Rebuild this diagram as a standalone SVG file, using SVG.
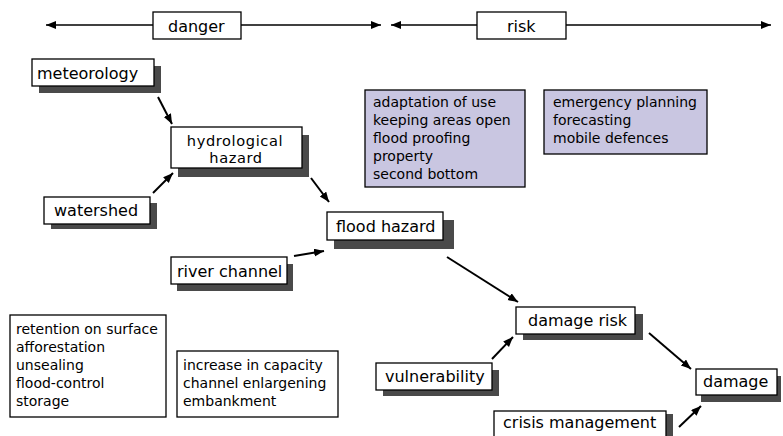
<svg xmlns="http://www.w3.org/2000/svg" width="783" height="436" viewBox="0 0 783 436">
<style>
.box{fill:#fff;stroke:#000;stroke-width:1.3}
.sh{fill:#4a4a4a}
.pbox{fill:#c9c6e1;stroke:#000;stroke-width:1.3}
.lbl{font-family:"DejaVu Sans",sans-serif;font-size:16px;fill:#000}
.hy{font-family:"DejaVu Sans",sans-serif;font-size:14.6px;letter-spacing:0.6px;fill:#000}
.lst{font-family:"DejaVu Sans",sans-serif;font-size:14px;fill:#000}
.ar{stroke:#000;stroke-width:2;fill:none;marker-end:url(#ah)}
.tl{stroke:#000;stroke-width:1.5;fill:none;marker-start:url(#ah);marker-end:url(#ah)}
</style>
<defs>
<marker id="ah" markerUnits="userSpaceOnUse" markerWidth="12" markerHeight="10" refX="10" refY="4" orient="auto-start-reverse">
<path d="M0,0 L10,4 L0,8 z" fill="#000"/>
</marker>
</defs>
<rect width="783" height="436" fill="#fff"/>
<g id="connectors">
<line class="tl" x1="46" y1="25" x2="381" y2="25"/>
<line class="tl" x1="391" y1="25" x2="771" y2="25"/>
<line class="ar" x1="158" y1="97" x2="172" y2="124"/>
<line class="ar" x1="153" y1="193" x2="173" y2="173"/>
<line class="ar" x1="311" y1="178" x2="329" y2="202"/>
<line class="ar" x1="294" y1="256" x2="324" y2="251"/>
<line class="ar" x1="447" y1="257" x2="518" y2="302"/>
<line class="ar" x1="492" y1="359" x2="513" y2="337"/>
<line class="ar" x1="649" y1="333" x2="691" y2="369"/>
<line class="ar" x1="679" y1="427" x2="701" y2="406"/>
</g>
<g id="danger">
<rect class="box" x="153" y="12" width="88" height="27"/>
<text class="lbl" x="168" y="32">danger</text>
</g>
<g id="risk">
<rect class="box" x="477" y="12" width="89" height="27"/>
<text class="lbl" x="507" y="32">risk</text>
</g>
<g id="meteorology">
<rect class="sh" x="39" y="66" width="122" height="27"/>
<rect class="box" x="32" y="59" width="122" height="27"/>
<text class="lbl" x="37" y="79">meteorology</text>
</g>
<g id="hydrological">
<rect class="sh" x="178" y="135" width="131" height="42"/>
<rect class="box" x="171" y="127" width="131" height="41"/>
<text class="hy" x="235" y="146" text-anchor="middle">hydrological</text>
<text class="hy" x="236" y="163" text-anchor="middle">hazard</text>
</g>
<g id="watershed">
<rect class="sh" x="51" y="203" width="106" height="26"/>
<rect class="box" x="44" y="197" width="106" height="27"/>
<text class="lbl" x="54" y="216">watershed</text>
</g>
<g id="flood-hazard">
<rect class="sh" x="334" y="220" width="120" height="29"/>
<rect class="box" x="327" y="212" width="116" height="28"/>
<text class="lbl" x="336" y="232">flood hazard</text>
</g>
<g id="river-channel">
<rect class="sh" x="177" y="264" width="116" height="27"/>
<rect class="box" x="171" y="257" width="116" height="27"/>
<text class="lbl" x="177" y="277">river channel</text>
</g>
<g id="measures-risk-1">
<rect class="pbox" x="365" y="90" width="160" height="97"/>
<text class="lst" x="373" y="107">adaptation of use</text>
<text class="lst" x="373" y="125">keeping areas open</text>
<text class="lst" x="373" y="143">flood proofing</text>
<text class="lst" x="373" y="161">property</text>
<text class="lst" x="373" y="179">second bottom</text>
</g>
<g id="measures-risk-2">
<rect class="pbox" x="544" y="90" width="163" height="64"/>
<text class="lst" x="553" y="107">emergency planning</text>
<text class="lst" x="553" y="125">forecasting</text>
<text class="lst" x="553" y="143">mobile defences</text>
</g>
<g id="measures-watershed">
<rect class="box" x="10" y="315" width="156" height="102"/>
<text class="lst" x="16" y="334">retention on surface</text>
<text class="lst" x="16" y="352">afforestation</text>
<text class="lst" x="16" y="370">unsealing</text>
<text class="lst" x="16" y="388">flood-control</text>
<text class="lst" x="16" y="406">storage</text>
</g>
<g id="measures-channel">
<rect class="box" x="177" y="351" width="161" height="66"/>
<text class="lst" x="183" y="370">increase in capacity</text>
<text class="lst" x="183" y="388">channel enlargening</text>
<text class="lst" x="183" y="406">embankment</text>
</g>
<g id="damage-risk">
<rect class="sh" x="523" y="314" width="120" height="26"/>
<rect class="box" x="516" y="307" width="119" height="27"/>
<text class="lbl" x="528" y="326">damage risk</text>
</g>
<g id="vulnerability">
<rect class="sh" x="383" y="370" width="116" height="26"/>
<rect class="box" x="376" y="363" width="116" height="27"/>
<text class="lbl" x="385" y="382">vulnerability</text>
</g>
<g id="damage">
<rect class="sh" x="701" y="376" width="80" height="26"/>
<rect class="box" x="696" y="369" width="81" height="26"/>
<text class="lbl" x="703" y="387">damage</text>
</g>
<g id="crisis-management">
<rect class="sh" x="501" y="414" width="172" height="30"/>
<rect class="box" x="494" y="411" width="172" height="30"/>
<text class="lbl" x="503" y="428">crisis management</text>
</g>
</svg>
